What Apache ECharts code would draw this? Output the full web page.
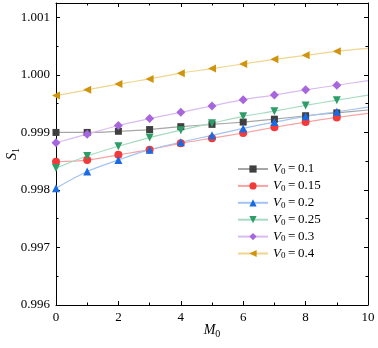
<!DOCTYPE html>
<html>
<head>
<meta charset="utf-8">
<script src="https://cdn.jsdelivr.net/npm/echarts@6/dist/echarts.min.js"></script>
<style>
html,body{margin:0;padding:0;background:#fff;}
#chart{width:378px;height:348px;}
</style>
</head>
<body>
<div id="chart"></div>
<script>
// M0 positions
var m0 = [0, 1, 2, 3, 4, 5, 6, 7, 8, 9, 10];
var names = ['0.1', '0.15', '0.2', '0.25', '0.3', '0.4'];
// S1 values (last one is the line end, no marker)
var v01  = [0.99900, 0.99900, 0.99902, 0.99905, 0.99910, 0.99914, 0.99918, 0.99923, 0.99929, 0.99934, 0.99939];
var v015 = [0.99849, 0.99852, 0.99861, 0.99870, 0.99881, 0.99890, 0.99899, 0.99909, 0.99918, 0.99926, 0.99933];
var v02  = [0.99803, 0.99832, 0.99852, 0.99870, 0.99883, 0.99895, 0.99907, 0.99918, 0.99928, 0.99936, 0.99944];
var v025 = [0.99838, 0.99859, 0.99876, 0.99891, 0.99904, 0.99916, 0.99928, 0.99937, 0.99947, 0.99956, 0.99965];
var v03  = [0.99882, 0.99897, 0.99912, 0.99924, 0.99935, 0.99946, 0.99957, 0.99965, 0.99974, 0.99982, 0.99990];
var v04  = [0.99964, 0.99974, 0.99984, 0.99993, 1.00003, 1.00011, 1.00019, 1.00027, 1.00034, 1.00041, 1.00046];
var yTicks = [0.996, 0.997, 0.998, 0.999, 1.000, 1.001];

var font = 'Liberation Serif';
var myChart = echarts.init(document.getElementById('chart'));

function pts(arr) {
	var out = [];
	for (var i = 0; i < arr.length; i++) {
		if (i == arr.length - 1) {
			out.push({ value: [m0[i], arr[i]], symbol: 'none' });
		} else {
			out.push([m0[i], arr[i]]);
		}
	}
	return out;
}

// marker colour, line colour, symbol, rotation, size
var styles = [
	['#3f3f3f', '#a6a6a6', 'rect', 0, 7],
	['#f23a3a', '#f7a3a3', 'circle', 0, 8],
	['#1a6be3', '#a3c3f2', 'triangle', 0, 8],
	['#2e9e68', '#a7dbc1', 'triangle', 180, 8],
	['#a766dd', '#d9bbf2', 'diamond', 0, 9],
	['#cf930c', '#efd58f', 'triangle', 90, 8]
];
var allData = [v01, v015, v02, v025, v03, v04];

var series = [];
for (var i = 0; i < allData.length; i++) {
	var s = styles[i];
	series.push({
		name: names[i],
		type: 'line',
		smooth: 0.3,
		symbol: s[2],
		symbolRotate: s[3],
		symbolSize: s[4],
		showAllSymbol: true,
		itemStyle: { color: s[0] },
		lineStyle: { color: s[1], width: 1.2 },
		data: pts(allData[i])
	});
}

var frameAxis = {
	axisLine: { show: true, onZero: false, lineStyle: { color: '#000', width: 1 } },
	axisTick: { show: true, inside: true, length: 4, lineStyle: { color: '#000' } },
	minorTick: { show: true, splitNumber: 2, length: 2.5, lineStyle: { color: '#000' } },
	splitLine: { show: false }
};

option = {
	animation: false,
	grid: { left: 56, right: 10, top: 3, bottom: 43, outerBoundsMode: 'none', containLabel: false },
	legend: {
		orient: 'vertical',
		left: 232,
		top: 157,
		itemWidth: 30,
		itemHeight: 9,
		itemGap: 2.9,
		data: names,
		formatter: function (n) { return '{i|V}{s|0}{n|\u2009=\u2009' + n + '}'; },
		textStyle: {
			rich: {
				i: { fontFamily: font, fontStyle: 'italic', fontSize: 13, color: '#000', lineHeight: 14 },
				s: { fontFamily: font, fontSize: 9, color: '#000', lineHeight: 14, verticalAlign: 'bottom', padding: [5, 0, 0, 0] },
				n: { fontFamily: font, fontSize: 13, color: '#000', lineHeight: 14 }
			}
		}
	},
	xAxis: [
		echarts.util.merge({
			type: 'value', min: 0, max: 10, interval: 2,
			name: '{i|M}{s|0}', nameLocation: 'middle', nameGap: 17, nameMoveOverlap: false,
			nameTextStyle: {
				rich: {
					i: { fontFamily: font, fontStyle: 'italic', fontSize: 14, color: '#000' },
					s: { fontFamily: font, fontSize: 10, color: '#000', padding: [7, 0, 0, 0] }
				}
			},
			axisLabel: { fontFamily: font, fontSize: 13, color: '#000', margin: 6 }
		}, frameAxis, true),
		echarts.util.merge({
			type: 'value', min: 0, max: 10, interval: 2, position: 'top',
			axisLabel: { show: false }
		}, frameAxis, true)
	],
	yAxis: [
		echarts.util.merge({
			type: 'value', min: yTicks[0], max: 1.00125, interval: 0.001,
			name: '{i|S}{s|1}', nameLocation: 'middle', nameGap: 35, nameMoveOverlap: false,
			nameTextStyle: {
				rich: {
					i: { fontFamily: font, fontStyle: 'italic', fontSize: 14, color: '#000' },
					s: { fontFamily: font, fontSize: 10, color: '#000', padding: [7, 0, 0, 0] }
				}
			},
			axisLabel: {
				fontFamily: font, fontSize: 13, color: '#000', margin: 6, showMaxLabel: false,
				formatter: function (v) { return v.toFixed(3); }
			}
		}, frameAxis, true),
		echarts.util.merge({
			type: 'value', min: yTicks[0], max: 1.00125, interval: 0.001, position: 'right',
			axisLabel: { show: false }
		}, frameAxis, true)
	],
	series: series
};

myChart.setOption(option);
</script>
</body>
</html>
